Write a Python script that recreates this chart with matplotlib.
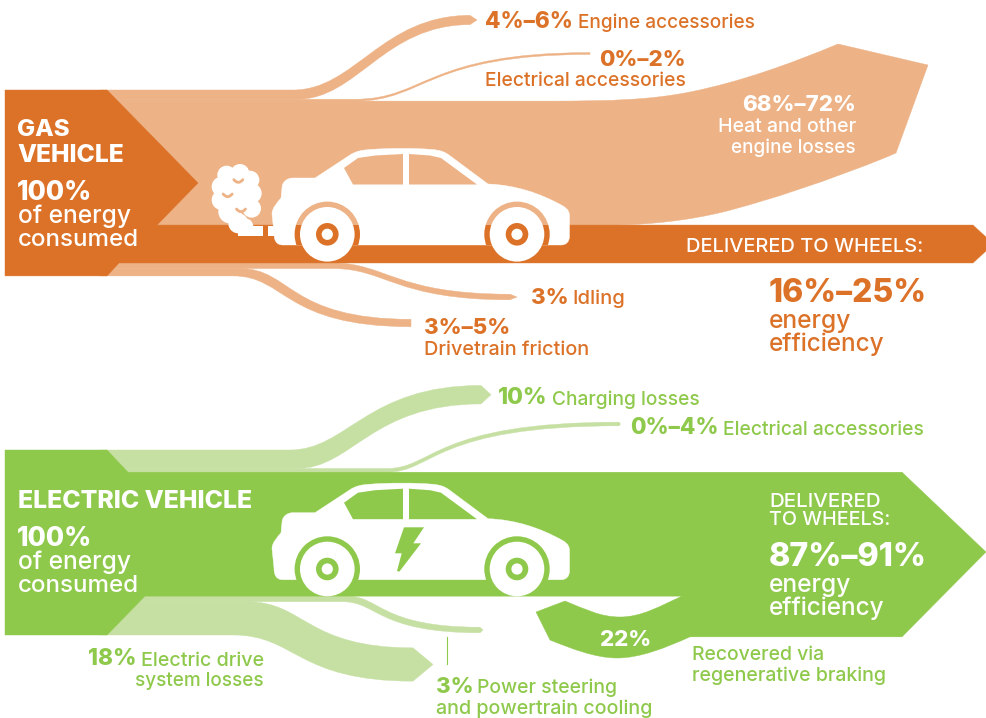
import matplotlib
matplotlib.use('Agg')
import matplotlib.pyplot as plt
from matplotlib.patches import PathPatch, Circle, Rectangle, Polygon
from matplotlib.path import Path

plt.rcParams['font.family'] = ['Inter', 'DejaVu Sans']

# Shares of the 100% input as they are drawn, in percent
gas_shares = [5, 1, 67, 20.5, 3, 4]      # engine, electrical, heat, wheels, idling, drivetrain
ev_shares = [10, 2, 67, 3, 18]           # charging, electrical, wheels, steering, drive system
ev_delivered = 89

# Label text
gas_values = ['4%–6%', '0%–2%', '68%–72%', '3%', '3%–5%', '16%–25%']
gas_names = ['Engine accessories', 'Electrical accessories', 'Heat and other', 'engine losses',
             'Idling', 'Drivetrain friction']
ev_values = ['10%', '0%–4%', '18%', '3%', '22%', '87%–91%']
ev_names = ['Charging losses', 'Electrical accessories', 'Electric drive', 'system losses',
            'Power steering', 'and powertrain cooling', 'Recovered via', 'regenerative braking']

ORANGE = '#DC7228'
ORANGE_LT = '#EDB285'
GREEN = '#8FC94C'
GREEN_LT = '#C6E0A3'
WHITE = 'white'
PX = 1.85   # pixels per percent

fig = plt.figure(figsize=(9.86, 7.18), dpi=100)
ax = fig.add_axes([0, 0, 1, 1])
ax.set_xlim(0, 986)
ax.set_ylim(718, 0)
ax.axis('off')


def shape(cmds, color, z=1):
    verts, codes = [], []
    for c in cmds:
        if len(c) == 1:
            verts.append(c[0])
            codes.append(Path.LINETO if codes else Path.MOVETO)
        else:
            verts.extend(c)
            codes.extend([Path.CURVE4] * 3)
    verts.append(verts[0])
    codes.append(Path.CLOSEPOLY)
    p = PathPatch(Path(verts, codes), fc=color, ec=color, lw=0.3, zorder=z)
    ax.add_patch(p)
    return p


def s_curve(x0, y0, x1, y1, a, b):
    dx = x1 - x0
    return [(x0 + a * dx, y0), (x1 - b * dx, y1), (x1, y1)]


def ribbon(color, y_top, share, x_top, x_bot, x_end, y_end, tip, a=0.35, b=0.65):
    # flow leaving the main band with a width set by its share
    w = share * PX
    y_bot = y_top + w
    top = s_curve(x_top, y_top, x_end, y_end - w / 2, a, b)
    back = s_curve(x_end, y_end + w / 2, x_bot, y_bot, b, a)
    cmds = [[(100, y_top)], [(x_top, y_top)], top]
    if tip:
        cmds.append([(x_end + tip, y_end)])
    cmds += [[(x_end, y_end + w / 2)], back, [(100, y_bot)]]
    shape(cmds, color)


def car(dy, light, dark):
    shape([[(283, 245 + dy)],
           [(276, 245 + dy), (274, 240 + dy), (274, 233 + dy)],
           [(272, 214 + dy)],
           [(272, 208 + dy), (277, 203 + dy), (281, 198 + dy)],
           [(282, 188 + dy)],
           [(282, 182 + dy), (287, 178 + dy), (293, 178 + dy)],
           [(315, 178 + dy)],
           [(350, 155 + dy)],
           [(356, 151 + dy), (362, 150 + dy), (370, 149.5 + dy)],
           [(390, 148 + dy), (415, 148 + dy), (432, 149.5 + dy)],
           [(440, 150 + dy), (445, 152 + dy), (449, 155 + dy)],
           [(488, 184 + dy)],
           [(515, 185 + dy), (540, 193 + dy), (563, 206 + dy)],
           [(568, 209 + dy), (569.5, 212 + dy), (569.5, 216 + dy)],
           [(569.5, 236 + dy)],
           [(569.5, 242 + dy), (566, 245 + dy), (561, 245 + dy)]], WHITE, 3)
    ax.add_patch(Polygon([(344, 168 + dy), (358, 158 + dy), (375, 155.5 + dy), (403, 154 + dy),
                          (403, 184.5 + dy), (353, 184.5 + dy)], fc=light, ec='none', zorder=4))
    ax.add_patch(Polygon([(409, 154 + dy), (430, 155.5 + dy), (441, 158 + dy), (477, 184.5 + dy),
                          (409, 184.5 + dy)], fc=light, ec='none', zorder=4))
    for cx in [327.3, 517]:
        for col, y0, y1 in [(light, 190, 225), (dark, 225, 245)]:
            well = Circle((cx, 234.3 + dy), 32.7, fc=col, ec='none', zorder=4)
            ax.add_patch(well)
            clip = Rectangle((cx - 40, y0 + dy), 80, y1 - y0, transform=ax.transData)
            well.set_clip_path(clip)
        ax.add_patch(Circle((cx, 234.3 + dy), 27.3, fc=WHITE, ec='none', zorder=5))
        ax.add_patch(Circle((cx, 234.3 + dy), 11.3, fc=dark, ec='none', zorder=6))
        ax.add_patch(Circle((cx, 234.3 + dy), 5.6, fc=WHITE, ec='none', zorder=7))


def label(x, y, s, size, color, bold=False, ha='left'):
    ax.text(x, y + 1.2, s, fontsize=size, color=color, ha=ha, va='baseline',
            fontweight=800 if bold else 500, zorder=10)


# ---- gas vehicle ----
top = 90
ribbon(ORANGE_LT, top, gas_shares[0], 293, 297, 470, 20, 7, 0.35, 0.5)
y = top + gas_shares[0] * PX
ribbon(ORANGE_LT, y, gas_shares[1], 355, 355, 590, 53.5, 0, 0.3, 0.7)
y += gas_shares[1] * PX
heat_top = y
heat_bot = y + gas_shares[2] * PX
bar_bot = heat_bot + gas_shares[3] * PX
shape([[(100, heat_top)], [(550, heat_top)],
       [(610, heat_top), (650, 100), (690, 92)],
       [(740, 82), (790, 64), (838, 44)],
       [(928, 65)], [(896, 153)], [(888, 156.5)],
       [(830, 180), (770, 200), (723, 212)],
       [(690, 220), (650, heat_bot), (610, heat_bot)],
       [(100, heat_bot)]], ORANGE_LT)
ribbon(ORANGE_LT, bar_bot, gas_shares[4], 333, 333, 510, 297, 7, 0.3, 0.65)
y = bar_bot + gas_shares[4] * PX
ribbon(ORANGE_LT, y, gas_shares[5], 240, 233, 411, 323, 0, 0.3, 0.72)
block_bot = y + gas_shares[5] * PX

shape([[(5, top)], [(107, top)], [(198, 183)], [(157, heat_bot)],
       [(973, heat_bot)], [(986, heat_bot + 12)], [(986, bar_bot - 12)], [(973, bar_bot)],
       [(119, bar_bot)], [(107, block_bot)], [(5, block_bot)]], ORANGE, 2)

# smoke from the tailpipe
for zx, zy, r in [(65, 60, 28), (105, 55, 28), (135, 75, 28), (140, 115, 30), (50, 95, 30),
                  (50, 135, 30), (140, 160, 28), (75, 170, 35), (100, 205, 30), (120, 215, 25),
                  (95, 120, 50)]:
    ax.add_patch(Circle((205 + zx / 3, 155 + zy / 3), r / 3, fc=WHITE, ec='none', zorder=3))
for zx, zy in [(100, 80), (68, 123), (108, 168)]:
    px, py = 205 + zx / 3, 155 + zy / 3
    ax.add_patch(PathPatch(Path([(px - 4.5, py - 2), (px, py + 3.5), (px + 4.5, py - 2)],
                                [Path.MOVETO, Path.CURVE3, Path.CURVE3]),
                           fc='none', ec=ORANGE_LT, lw=2, capstyle='round', zorder=4))
ax.add_patch(Rectangle((238, 226), 25, 9.5, fc=WHITE, ec='none', zorder=3))
ax.add_patch(Rectangle((268, 226), 8, 9.5, fc=WHITE, ec='none', zorder=3))
car(0, ORANGE_LT, ORANGE)

label(17.5, 135, 'GAS', 17.4, WHITE, True)
label(17.5, 161, 'VEHICLE', 17.8, WHITE, True)
label(17, 199, '100%', 19, WHITE, True)
label(17.5, 222, 'of energy', 17.7, WHITE)
label(17.5, 245, 'consumed', 17.4, WHITE)
label(485, 27, gas_values[0], 16.2, ORANGE, True)
label(578, 26.5, gas_names[0], 13.7, ORANGE)
label(686, 64.5, gas_values[1], 16, ORANGE, True, 'right')
label(686, 85, gas_names[1], 13.9, ORANGE, False, 'right')
label(856, 110, gas_values[2], 16, WHITE, True, 'right')
label(856, 131, gas_names[2], 14.1, WHITE, False, 'right')
label(856, 151.5, gas_names[3], 13.6, WHITE, False, 'right')
label(686, 250.7, 'DELIVERED TO WHEELS:', 14.4, WHITE)
label(769, 300.7, gas_values[5], 23, ORANGE, True)
label(769, 326.7, 'energy', 17.7, ORANGE)
label(769, 349.3, 'efficiency', 17.5, ORANGE)
label(531, 302.7, gas_values[3], 16, ORANGE, True)
label(572, 302.7, gas_names[4], 14.5, ORANGE)
label(424, 333.3, gas_values[4], 16, ORANGE, True)
label(424, 354, gas_names[5], 14.3, ORANGE)

# ---- electric vehicle ----
top = 450
ribbon(GREEN_LT, top, ev_shares[0], 290, 297, 481, 394.7, 10, 0.3, 0.6)
y = top + ev_shares[0] * PX
ribbon(GREEN_LT, y, ev_shares[1], 387, 387, 619, 424, 1.5, 0.2, 0.8)
y += ev_shares[1] * PX
bar_top = y
bar_bot = y + ev_shares[2] * PX
ribbon(GREEN_LT, bar_bot, ev_shares[3], 347, 343, 480, 630, 3, 0.25, 0.75)
y = bar_bot + ev_shares[3] * PX
ribbon(GREEN_LT, y, ev_shares[4], 247, 233, 413, 664.5, 20, 0.35, 0.65)
block_bot = y + ev_shares[4] * PX
arrow_bot = bar_top + ev_delivered * PX

shape([[(5, top)], [(107, top)], [(128, bar_top)], [(902, bar_top)], [(986, 552)],
       [(902, arrow_bot)], [(690, arrow_bot)],
       [(665, 648), (640, 658), (617, 658)],
       [(595, 658), (570, 648), (550, 640)],
       [(536, 612)], [(565, 601)],
       [(585, 609), (600, 617), (620, 617)],
       [(642, 617), (660, 606), (682, bar_bot)],
       [(145, bar_bot)], [(107, block_bot)], [(5, block_bot)]], GREEN, 2)
car(334.7, GREEN, GREEN)
ax.add_patch(Polygon([(404, 527.3), (424, 527.3), (413.3, 543.3), (421, 543.3), (399.3, 571.7),
                      (397, 571), (401.7, 553.3), (395, 553.3)], fc=GREEN, ec='none', zorder=6))
ax.plot([447, 447], [637, 664], color=GREEN, lw=0.8, zorder=2)

label(17.5, 506.7, 'ELECTRIC VEHICLE', 17.9, WHITE, True)
label(17, 545, '100%', 19, WHITE, True)
label(17.5, 567.3, 'of energy', 17.7, WHITE)
label(17.5, 591.3, 'consumed', 17.4, WHITE)
label(498, 403.3, ev_values[0], 16.5, GREEN, True)
label(552, 404, ev_names[0], 13.8, GREEN)
label(630, 433.3, ev_values[1], 16.2, GREEN, True)
label(723, 434, ev_names[1], 13.9, GREEN)
label(769, 505.7, 'DELIVERED', 14.8, WHITE)
label(769, 524, 'TO WHEELS:', 14.2, WHITE)
label(769, 564.3, ev_values[5], 23.2, WHITE, True)
label(769, 590.7, 'energy', 17.7, WHITE)
label(769, 614, 'efficiency', 17.5, WHITE)
label(600, 645.3, ev_values[4], 16, WHITE, True)
label(692, 659.3, ev_names[6], 14, GREEN)
label(692, 680, ev_names[7], 14.1, GREEN)
label(88, 664, ev_values[2], 16.4, GREEN, True)
label(141, 664.3, ev_names[2], 14.2, GREEN)
label(264, 685, ev_names[3], 13.6, GREEN, False, 'right')
label(436, 691.7, ev_values[3], 16, GREEN, True)
label(477, 692, ev_names[4], 14, GREEN)
label(436, 713, ev_names[5], 14.2, GREEN)

fig.savefig('out.png', dpi=100)
plt.close()
